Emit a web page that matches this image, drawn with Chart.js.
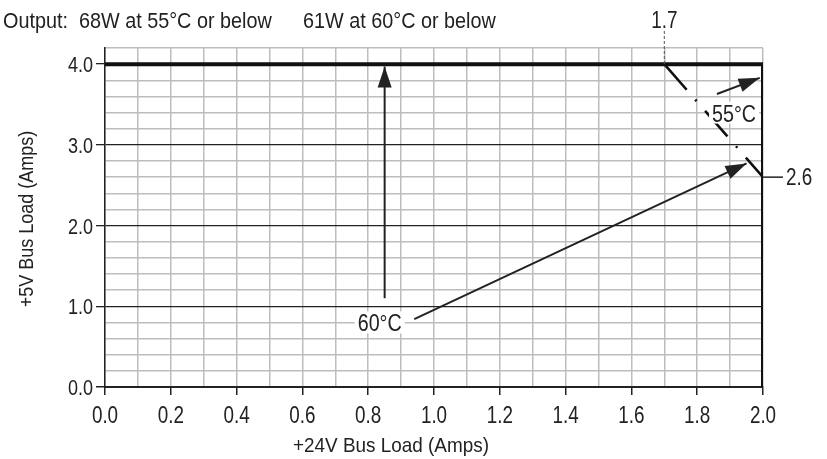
<!DOCTYPE html>
<html>
<head>
<meta charset="utf-8">
<script src="https://cdn.jsdelivr.net/npm/chart.js@4"></script>
<style>
  html, body { margin: 0; padding: 0; background: #fff; }
  #wrap { width: 827px; height: 459px; }
</style>
</head>
<body>
<div id="wrap"><canvas id="chart" width="827" height="459"></canvas></div>
<script>
const FONT = '"Liberation Sans", Arial, sans-serif';
const INK = '#222';

// +24V load (x) and +5V load (y), amps
const xTickLabels = ['0.0', '0.2', '0.4', '0.6', '0.8', '1.0', '1.2', '1.4', '1.6', '1.8', '2.0'];
const yTickLabels = ['0.0', '1.0', '2.0', '3.0', '4.0'];

const limit55X = [0, 2.0, 2.0];
const limit55Y = [4.0, 4.0, 0];
const derate60X = [1.7, 2.0];
const derate60Y = [4.0, 2.6];

const arrowUpX = [0.85, 0.85];
const arrowUpY = [1.1, 3.97];
const arrowDiagX = [0.94, 1.95];
const arrowDiagY = [0.84, 2.77];
const arrow55X = [1.86, 1.99];
const arrow55Y = [3.63, 3.83];

const noteText = ['60°C', '55°C'];
const noteX = [0.835, 1.912];
const noteY = [0.80, 3.40];

const kneeX = 1.7;
const kneeY = 2.6;

function pts(xs, ys) {
    return xs.map((v, i) => ({ x: v, y: ys[i] }));
}

function isWhole(v) {
    return Math.abs(v - Math.round(v)) < 1e-6;
}

function isEven10(v) {
    return Math.abs(v * 5 - Math.round(v * 5)) < 1e-6;
}

// condensed look: squeeze a normal sans horizontally
function drawText(ctx, text, x, y, size, sx, align, rot) {
    ctx.save();
    ctx.font = size + 'px ' + FONT;
    ctx.fillStyle = INK;
    ctx.textAlign = align;
    ctx.textBaseline = 'alphabetic';
    ctx.translate(x, y);
    if (rot) ctx.rotate(rot);
    ctx.scale(sx, 1);
    ctx.fillText(text, 0, 0);
    ctx.restore();
}

const annotations = {
    id: 'annotations',
    afterDatasetsDraw(chart) {
        const ctx = chart.ctx;
        const x = chart.scales.x;
        const y = chart.scales.y;

        // arrowheads on the last point of each arrow dataset
        chart.data.datasets.forEach(ds => {
            if (!ds.arrow) return;
            const n = ds.data.length;
            const a = ds.data[n - 2], b = ds.data[n - 1];
            const x1 = x.getPixelForValue(a.x), y1 = y.getPixelForValue(a.y);
            const x2 = x.getPixelForValue(b.x), y2 = y.getPixelForValue(b.y);
            const ang = Math.atan2(y2 - y1, x2 - x1);
            const len = 21, half = 7;
            ctx.save();
            ctx.translate(x2, y2);
            ctx.rotate(ang);
            ctx.fillStyle = INK;
            ctx.beginPath();
            ctx.moveTo(0, 0);
            ctx.lineTo(-len, -half);
            ctx.lineTo(-len, half);
            ctx.closePath();
            ctx.fill();
            ctx.restore();
        });

        // notes inside the plot, on a white patch
        noteText.forEach((t, i) => {
            const px = x.getPixelForValue(noteX[i]);
            const py = y.getPixelForValue(noteY[i]);
            ctx.save();
            ctx.font = '24px ' + FONT;
            const w = ctx.measureText(t).width * 0.82;
            ctx.fillStyle = '#fff';
            ctx.fillRect(px - w / 2 - 3, py - 11, w + 6, 22);
            ctx.restore();
            drawText(ctx, t, px, py + 9, 24, 0.82, 'center');
        });

        // tick labels
        xTickLabels.forEach(t => {
            drawText(ctx, t, x.getPixelForValue(parseFloat(t)), 423, 23, 0.82, 'center');
        });
        yTickLabels.forEach(t => {
            drawText(ctx, t, 93, y.getPixelForValue(parseFloat(t)) + 8, 22, 0.82, 'right');
        });

        // 1.7 leader above the plot
        const kx = x.getPixelForValue(kneeX);
        const top4 = y.getPixelForValue(4.0);
        ctx.save();
        ctx.strokeStyle = '#555';
        ctx.lineWidth = 1;
        ctx.setLineDash([3, 2]);
        ctx.beginPath();
        ctx.moveTo(kx, 31);
        ctx.lineTo(kx, top4);
        ctx.stroke();
        ctx.restore();
        drawText(ctx, kneeX.toFixed(1), kx, 28, 23, 0.82, 'center');

        // 2.6 leader right of the plot
        const ky = y.getPixelForValue(kneeY);
        const rx = x.getPixelForValue(2.0);
        ctx.save();
        ctx.strokeStyle = INK;
        ctx.lineWidth = 1.5;
        ctx.beginPath();
        ctx.moveTo(rx, ky);
        ctx.lineTo(rx + 20, ky);
        ctx.stroke();
        ctx.restore();
        drawText(ctx, kneeY.toFixed(1), rx + 23, ky + 8, 23, 0.82, 'left');

        // heading
        drawText(ctx, 'Output:  68W at 55°C or below', 3, 28, 22, 0.9, 'left');
        drawText(ctx, '61W at 60°C or below', 303, 28, 22, 0.9, 'left');

        // axis titles
        drawText(ctx, '+24V Bus Load (Amps)', 391, 452, 21, 0.9, 'center');
        drawText(ctx, '+5V Bus Load (Amps)', 33, 219, 20, 0.9, 'center', -Math.PI / 2);
    }
};

new Chart(document.getElementById('chart'), {
    type: 'scatter',
    data: {
        datasets: [
            {
                data: pts(limit55X, limit55Y),
                showLine: true,
                borderColor: '#111',
                borderWidth: 4,
                pointRadius: 0,
                borderCapStyle: 'butt'
            },
            {
                data: pts(derate60X, derate60Y),
                showLine: true,
                borderColor: '#111',
                borderWidth: 2.6,
                borderDash: [34, 13, 2, 13],
                pointRadius: 0
            },
            {
                data: pts(arrowUpX, arrowUpY),
                arrow: true,
                showLine: true,
                borderColor: INK,
                borderWidth: 2,
                pointRadius: 0
            },
            {
                data: pts(arrowDiagX, arrowDiagY),
                arrow: true,
                showLine: true,
                borderColor: INK,
                borderWidth: 2,
                pointRadius: 0
            },
            {
                data: pts(arrow55X, arrow55Y),
                arrow: true,
                showLine: true,
                borderColor: INK,
                borderWidth: 2,
                pointRadius: 0
            }
        ]
    },
    options: {
        responsive: false,
        animation: false,
        layout: { padding: { top: 48, right: 64, left: 0, bottom: 0 } },
        plugins: {
            legend: { display: false },
            tooltip: { enabled: false }
        },
        scales: {
            x: {
                type: 'linear',
                min: 0,
                max: 2.0,
                afterFit: s => { s.height = 72; },
                afterBuildTicks: s => {
                    s.ticks = [];
                    for (let i = 0; i <= 20; i++) s.ticks.push({ value: i / 10 });
                },
                ticks: { display: false },
                grid: {
                    color: '#bdbdbd',
                    lineWidth: 1.5,
                    tickLength: 8,
                    tickColor: c => isEven10(c.tick.value) ? INK : 'rgba(0,0,0,0)'
                },
                border: { color: INK, width: 2 }
            },
            y: {
                type: 'linear',
                min: 0,
                max: 4.2,
                afterFit: s => { s.width = 105; },
                afterBuildTicks: s => {
                    s.ticks = [];
                    for (let i = 0; i <= 21; i++) s.ticks.push({ value: i / 5 });
                },
                ticks: { display: false },
                grid: {
                    color: c => (isWhole(c.tick.value) && c.tick.value > 0 && c.tick.value < 4.1) ? INK : '#bdbdbd',
                    lineWidth: c => (isWhole(c.tick.value) && c.tick.value > 0 && c.tick.value < 4.1) ? 1.3 : 1.5,
                    tickLength: 9,
                    tickColor: c => isWhole(c.tick.value) ? INK : 'rgba(0,0,0,0)'
                },
                border: { color: INK, width: 1.5 }
            }
        }
    },
    plugins: [annotations]
});
</script>
</body>
</html>
